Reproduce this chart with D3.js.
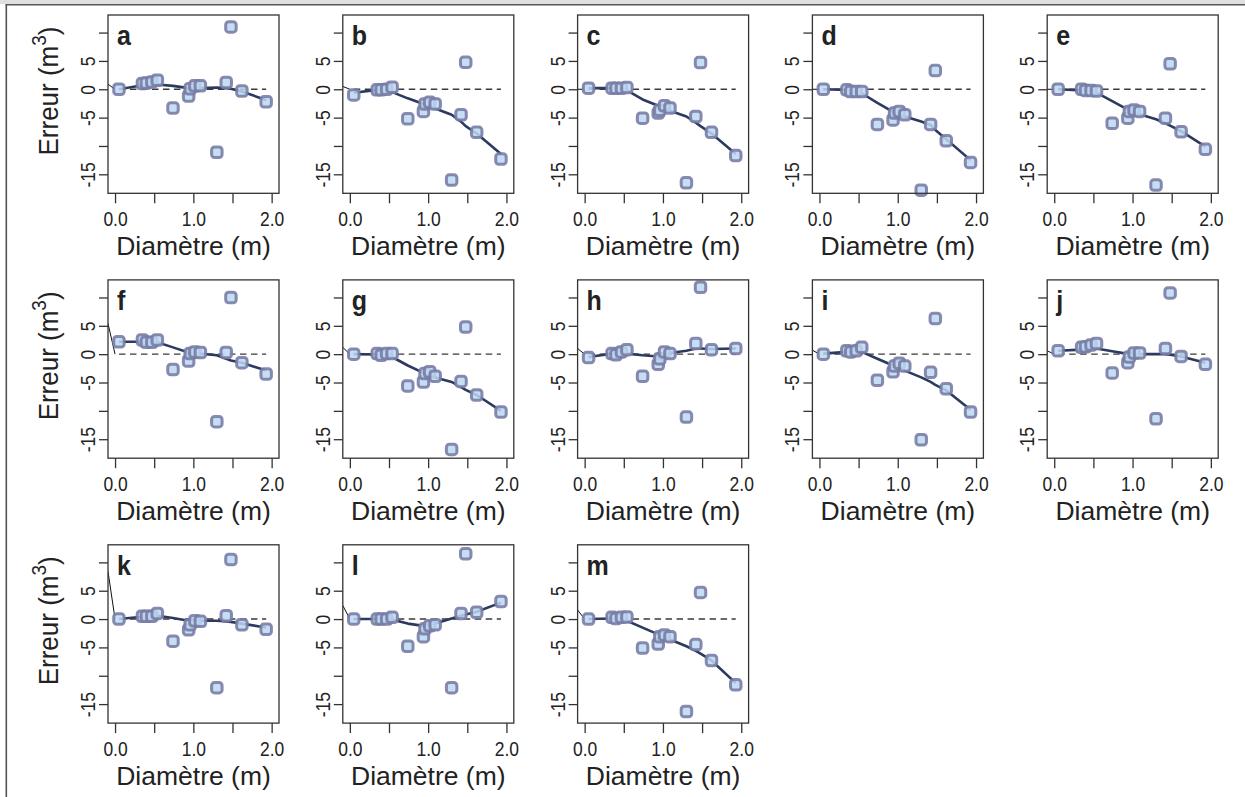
<!DOCTYPE html>
<html><head><meta charset="utf-8">
<script src="https://cdn.jsdelivr.net/npm/d3@7"></script>
<style>
body{margin:0;background:#fff}
svg{display:block}
text{font-family:"Liberation Sans",Arial,Helvetica,sans-serif;fill:#222}
</style>
</head><body>
<svg id="chart" width="1245" height="797"></svg>
<script>
// ---- data ----
const panelLabels = ["a","b","c","d","e","f","g","h","i","j","k","l","m"];
const diam = [0.05,0.35,0.40,0.47,0.54,0.74,0.94,0.96,1.02,1.09,1.30,1.42,1.48,1.62,1.93];

const errA = [0,1.0,1.1,1.3,1.6,-3.3,-1.2,0.1,0.6,0.6,-11.1,1.2,11.0,-0.3,-2.2];
const errB = [-1.0,-0.1,-0.1,0,0.35,-5.2,-3.9,-2.6,-2.3,-2.6,-16.0,-4.5,4.75,-7.6,-12.3];
const errC = [0.2,0.2,0.2,0.2,0.3,-5.1,-4.2,-3.7,-2.9,-3.3,-16.5,-4.8,4.7,-7.6,-11.7];
const errD = [0,-0.1,-0.4,-0.4,-0.4,-6.2,-5.4,-4.2,-3.9,-4.5,-17.8,-6.2,3.3,-9.1,-12.9];
const errE = [0,0,-0.2,-0.2,-0.3,-6.0,-5.1,-3.9,-3.65,-3.9,-16.9,-5.1,4.5,-7.5,-10.6];
const errF = [2.2,2.5,2.1,2.1,2.5,-2.7,-1.2,0.1,0.4,0.3,-11.9,0.3,10.0,-1.5,-3.5];
const errG = [0,0.1,-0.2,0.1,0.1,-5.6,-4.9,-3.4,-3.1,-3.9,-16.8,-4.8,4.8,-7.2,-10.2];
const errH = [-0.6,0.1,-0.1,0.4,0.8,-3.9,-1.8,-0.8,0.4,0.1,-11.1,1.9,11.8,0.8,1.0];
const errI = [0,0.6,0.4,0.6,1.2,-4.6,-3.1,-2.1,-1.6,-2.1,-15.1,-3.2,6.3,-6.1,-10.2];
const errJ = [0.6,1.2,1.3,1.6,1.9,-3.3,-1.5,-0.5,0.2,0.2,-11.4,1.0,10.8,-0.4,-1.8];
const errK = [0,0.5,0.5,0.5,1.0,-3.9,-1.9,-1.0,-0.3,-0.4,-12.1,0.6,10.5,-1.0,-1.8];
const errL = [0,0,0,0,0.3,-4.8,-3.1,-1.7,-1.2,-1.0,-12.1,1.0,11.5,1.2,3.1];
const errM = [0,0.3,0.1,0.3,0.35,-5.1,-4.4,-3.1,-2.8,-3.1,-16.3,-4.5,4.7,-7.3,-11.6];

const fitA = [0,0.7,0.75,0.8,0.85,0.6,0.2,0.15,0.15,0.2,0.3,0.2,0.1,-0.4,-1.9];
const fitB = [-0.6,-0.1,-0.1,-0.2,-0.5,-1.6,-2.6,-2.8,-3.0,-3.4,-4.5,-5.7,-6.5,-7.8,-11.4];
const fitC = [0.2,0.2,0.15,0,-0.2,-1.8,-2.9,-3.1,-3.4,-3.8,-4.8,-5.9,-6.5,-7.8,-11.4];
const fitD = [0,-0.1,-0.2,-0.4,-0.7,-2.4,-4.0,-4.2,-4.5,-4.8,-5.7,-6.3,-7.2,-8.8,-12.5];
const fitE = [0,-0.2,-0.3,-0.4,-0.6,-2.1,-3.6,-3.8,-4.1,-4.4,-5.3,-6.0,-6.4,-7.4,-10.1];
const fitF = [2.2,2.2,2.2,2.2,2.1,1.2,0.3,0.25,0.2,0.1,-0.2,-0.8,-1.1,-1.5,-2.9];
const fitG = [0,-0.05,-0.1,-0.2,-0.5,-2.0,-3.3,-3.5,-3.8,-4.1,-4.9,-5.8,-6.3,-7.2,-10.0];
const fitH = [-0.5,0.1,0.2,0.2,0.1,-0.2,-0.4,-0.3,0.0,0.2,0.6,1.0,1.0,0.9,1.0];
const fitI = [0.1,0.4,0.5,0.6,0.4,-0.8,-2.0,-2.1,-2.5,-2.9,-4.1,-4.9,-5.4,-6.4,-9.8];
const fitJ = [0.6,0.8,0.9,1.0,1.0,0.5,0.05,0,0,0,0,0,-0.1,-0.4,-1.5];
const fitK = [0,0.4,0.5,0.6,0.6,0.2,-0.3,-0.3,-0.3,-0.3,-0.3,-0.4,-0.5,-0.8,-1.5];
const fitL = [0,0,0,0,-0.1,-0.8,-1.2,-1.2,-1.1,-0.8,0.1,0.6,0.8,1.3,2.9];
const fitM = [0,0.1,0.1,0,-0.3,-1.5,-2.7,-2.9,-3.2,-3.6,-4.8,-5.6,-6.1,-7.3,-11.3];

// value of the thin lead line where it enters the plot at the left edge
const leadY = [0.9,0.5,0,0,0,5.4,1.2,1.0,0.7,0.6,8.4,2.4,1.6];

const xTicks = [0,0.5,1,1.5,2];
const xTickLabels = ["0.0","","1.0","","2.0"];
const yTicks = [-15,-10,-5,0,5,10];
const yTickLabels = ["-15","","-5","0","5",""];
const xTitle = "Diamètre (m)";
const yTitle = "Erreur (m";

const errs = [errA,errB,errC,errD,errE,errF,errG,errH,errI,errJ,errK,errL,errM];
const fits = [fitA,fitB,fitC,fitD,fitE,fitF,fitG,fitH,fitI,fitJ,fitK,fitL,fitM];

// ---- layout ----
const svg = d3.select("#chart");
const W = 171, H = 178.3;
const left0 = 108, stepX = 234.8, top0 = 15, stepY = 264.9;
const xDomain = [-0.09, 2.094], yDomain = [-18.35, 13.1];

// frame
svg.append("rect").attr("x",0).attr("y",0).attr("width",1245).attr("height",4).attr("fill","#e0e0e0");
svg.append("line").attr("x1",5.5).attr("x2",1245).attr("y1",4.8).attr("y2",4.8).attr("stroke","#555").attr("stroke-width",1.6);
svg.append("line").attr("x1",6.3).attr("x2",6.3).attr("y1",4.8).attr("y2",797).attr("stroke","#555").attr("stroke-width",1.6);

const x = d3.scaleLinear().domain(xDomain).range([0, W]);
const y = d3.scaleLinear().domain(yDomain).range([H, 0]);

panelLabels.forEach((lab, i) => {
  const col = i % 5, row = Math.floor(i / 5);
  const g = svg.append("g").attr("transform", `translate(${left0 + col*stepX},${top0 + row*stepY})`);
  const clipId = "clip" + i;
  g.append("clipPath").attr("id", clipId).append("rect").attr("width", W).attr("height", H);

  // axes
  const ya = g.append("g").call(d3.axisLeft(y).tickValues(yTicks).tickSize(9)
      .tickFormat((d, k) => yTickLabels[k]));
  ya.select(".domain").remove();
  ya.selectAll("line").attr("stroke", "#333").attr("stroke-width", 1.3);
  ya.selectAll("text").attr("transform", "translate(-13,0) rotate(-90) scale(1,1.18)").attr("x", 0).attr("y", 0).attr("dy", 0)
    .attr("text-anchor", "middle").style("font-size", "17.5px").attr("fill", "#222");

  const xa = g.append("g").attr("transform", `translate(0,${H})`)
    .call(d3.axisBottom(x).tickValues(xTicks).tickSize(10).tickFormat((d, k) => xTickLabels[k]));
  xa.select(".domain").remove();
  xa.selectAll("line").attr("stroke", "#333").attr("stroke-width", 1.3);
  xa.selectAll("text").attr("transform", "translate(0,32.8) scale(1,1.15)").attr("y", 0).attr("dy", 0)
    .style("font-size", "17.5px").attr("fill", "#222");

  const plot = g.append("g").attr("clip-path", `url(#${clipId})`);
  // zero reference line
  plot.append("line").attr("x1", x(diam[0])).attr("x2", x(diam[diam.length-1]))
    .attr("y1", y(0)).attr("y2", y(0)).attr("stroke", "#3a3a3a").attr("stroke-width", 1.4)
    .attr("stroke-dasharray", "6.5,4.5");
  // lead line
  plot.append("line").attr("x1", x(xDomain[0])).attr("y1", y(leadY[i]))
    .attr("x2", x(0)).attr("y2", y(0)).attr("stroke", "#111").attr("stroke-width", 1);
  // fit line
  const pts = diam.map((d, k) => [d, fits[i][k]]);
  plot.append("path").attr("d", d3.line().x(d => x(d[0])).y(d => y(d[1]))(pts))
    .attr("fill", "none").attr("stroke", "#2c3a5e").attr("stroke-width", 2.6).attr("stroke-linejoin", "round");
  // points
  const s = 10.5;
  g.selectAll("rect.pt").data(diam.map((d, k) => [d, errs[i][k]])).enter().append("rect")
    .attr("class", "pt")
    .attr("x", d => x(d[0]) - s/2).attr("y", d => y(d[1]) - s/2)
    .attr("width", s).attr("height", s).attr("rx", 3)
    .attr("fill", "#bcd7f2").attr("fill-opacity", 0.85)
    .attr("stroke", "#767ba4").attr("stroke-opacity", 0.88).attr("stroke-width", 3);

  // box
  g.append("rect").attr("width", W).attr("height", H).attr("fill", "none")
    .attr("stroke", "#333").attr("stroke-width", 1.3);

  // panel letter
  g.append("text").attr("transform", "translate(9,30) scale(1,1.08)").text(lab)
    .style("font-size", "25px").style("font-weight", "bold").attr("fill", "#111");

  // x title
  g.append("text").attr("transform", `translate(${W/2},${H + 61.5})`).attr("text-anchor", "middle")
    .style("font-size", "26.5px").text(xTitle);

  // y title (first column only)
  if (col === 0) {
    const t = g.append("text").attr("transform", `translate(${58 - left0},${76}) rotate(-90) scale(1,1.05)`)
      .attr("text-anchor", "middle").style("font-size", "26px");
    t.append("tspan").text(yTitle);
    t.append("tspan").text("3").style("font-size", "19px").attr("dy", "-0.6em");
    t.append("tspan").text(")").attr("dy", "0.45em");
  }
});
</script>
</body></html>
